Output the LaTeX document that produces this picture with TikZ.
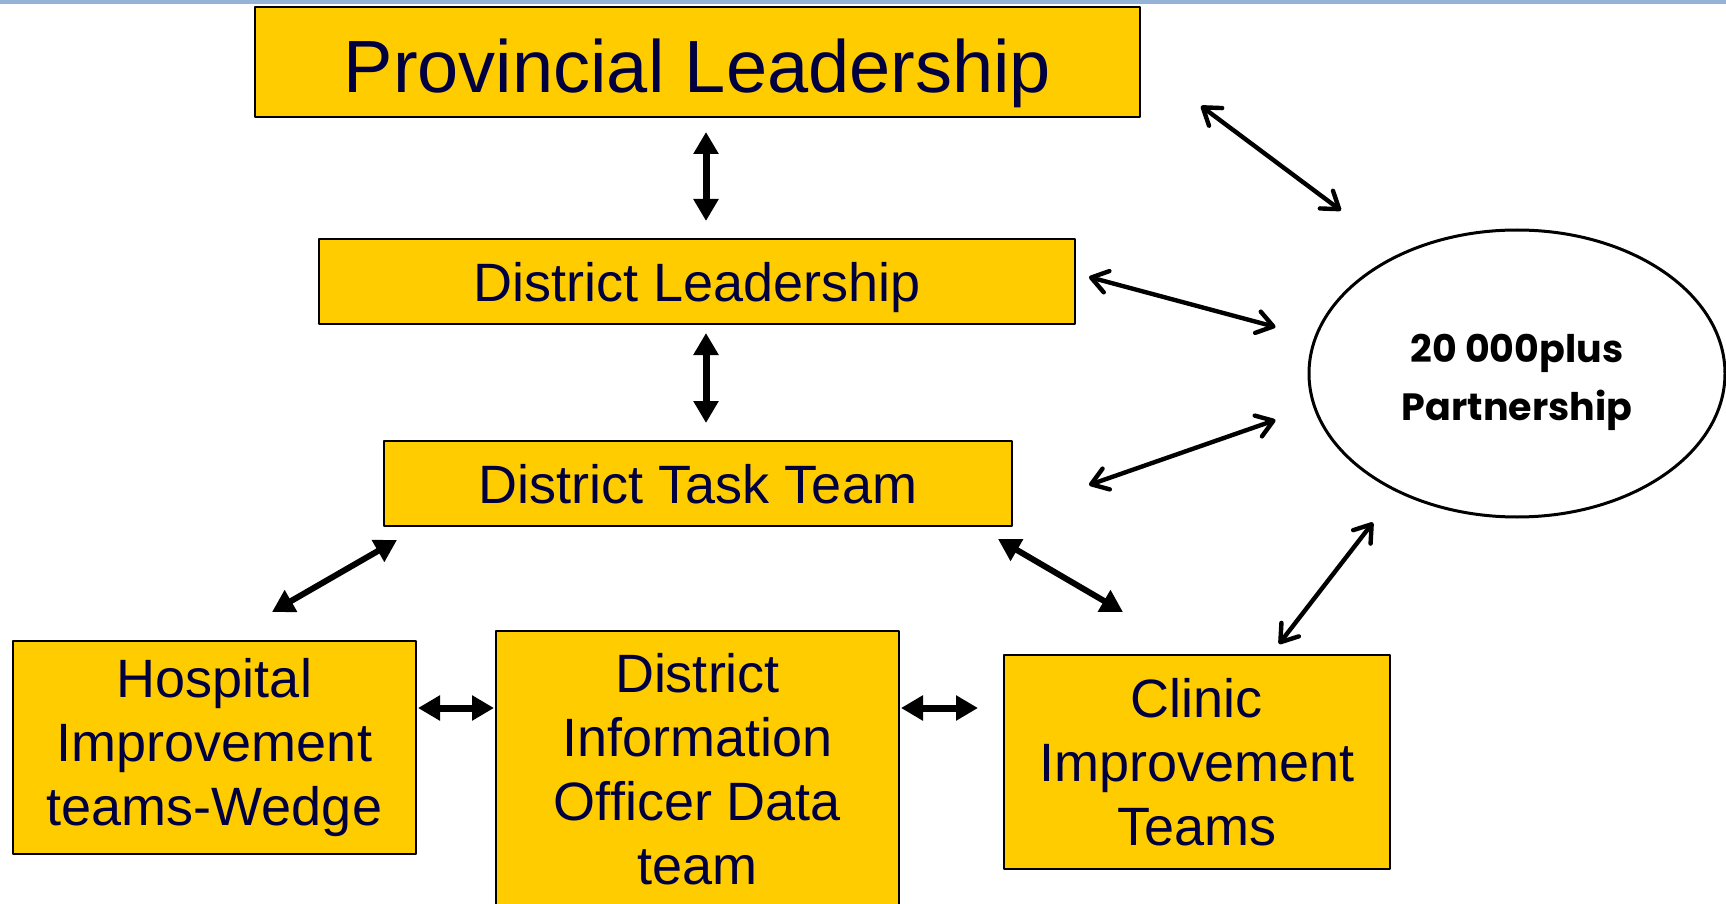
\documentclass[tikz,border=0pt]{standalone}
\usepackage{fontspec}
\setmainfont{Liberation Sans}
\newfontfamily\gothicfont{Poppins}
\usetikzlibrary{arrows.meta}
\usetikzlibrary{shapes.geometric}
\definecolor{boxyellow}{RGB}{255,204,0}
\definecolor{boxtext}{RGB}{0,0,64}
\definecolor{topbar}{RGB}{149,179,215}

\begin{document}
\begin{tikzpicture}[x=0.5pt,y=-0.5pt,line join=bevel,
  box/.style={draw=black,line width=1pt,fill=boxyellow,text=boxtext,inner sep=0pt,align=center,font=\fontsize{27}{32}\selectfont},
  oneline/.style={text height=23pt,text depth=3pt},
  blockarrow/.style={line width=3.5pt,{Triangle[width=12pt,length=11pt]}-{Triangle[width=12pt,length=11pt]}},
  barbarrow/.style={line width=2.2pt,line cap=round,{Straight Barb[length=8pt,width=11pt,round]}-{Straight Barb[length=8pt,width=11pt,round]}}]
%%
\useasboundingbox (0,0) rectangle (1726,904);
\clip (0,0) rectangle (1726,904);
\fill[topbar] (0,0) rectangle (1726,4.5);
\node (prov_lead) at (697.5,62) [box,minimum width=442.5pt,minimum height=55pt,text height=35pt,text depth=4.5pt,font=\fontsize{37}{42}\selectfont] {Provincial Leadership};
  \node (dist_lead) at (697,281.5) [box,oneline,minimum width=378pt,minimum height=42.5pt] {District Leadership};
  \node (task_team) at (698,483.5) [box,oneline,minimum width=314pt,minimum height=42.5pt] {District Task Team};
  \node (hosp_team) at (214.5,747.5) [box,minimum width=201.5pt,minimum height=106.5pt] {Hospital\\Improvement\\teams-Wedge};
  \node (dio_team) at (697.5,769) [box,minimum width=201.5pt,minimum height=138pt] {District\\Information\\Officer Data\\team};
  \node (clinic_team) at (1197,762) [box,minimum width=193pt,minimum height=107pt] {Clinic\\Improvement\\Teams};
  \node (partners) at (1517,373.5) [ellipse,draw=black,line width=1.5pt,inner sep=0pt,minimum width=208pt,minimum height=143.5pt] {};
  \node (partners_text) at ([yshift=-4.5pt]partners.center) [align=center,inner sep=0pt,font=\gothicfont\bfseries\fontsize{19}{29}\selectfont] {20 000plus\\Partnership};
  \draw [blockarrow] ([shift={(8.5,14)}]prov_lead.south) -- ([shift={(9,-17)}]dist_lead.north);
  \draw [blockarrow] ([shift={(9,8)}]dist_lead.south) -- ([shift={(8,-17)}]task_team.north);
  \draw [blockarrow,line width=3pt] ([shift={(14,13)}]task_team.south west) -- ([shift={(57.5,-28)}]hosp_team.north);
  \draw [blockarrow,line width=3pt] ([shift={(-15,12)}]task_team.south east) -- ([shift={(-74,-42)}]clinic_team.north);
  \draw [blockarrow] ([shift={(1,-39.5)}]hosp_team.east) -- ([shift={(-1,-61)}]dio_team.west);
  \draw [blockarrow] ([shift={(1,-61)}]dio_team.east) -- ([shift={(-25,-54)}]clinic_team.west);
  \draw [barbarrow] ([shift={(60,-12)}]prov_lead.south east) -- ([shift={(-176,-18)}]partners.north);
  \draw [barbarrow] ([shift={(13,-4.5)}]dist_lead.east) -- ([shift={(-32,-46.5)}]partners.west);
  \draw [barbarrow] ([shift={(76,1.5)}]task_team.east) -- ([shift={(-32,46.5)}]partners.west);
  \draw [barbarrow] ([shift={(82,-10)}]clinic_team.north) -- ([shift={(-144,4)}]partners.south);
%
\end{tikzpicture}
\end{document}
